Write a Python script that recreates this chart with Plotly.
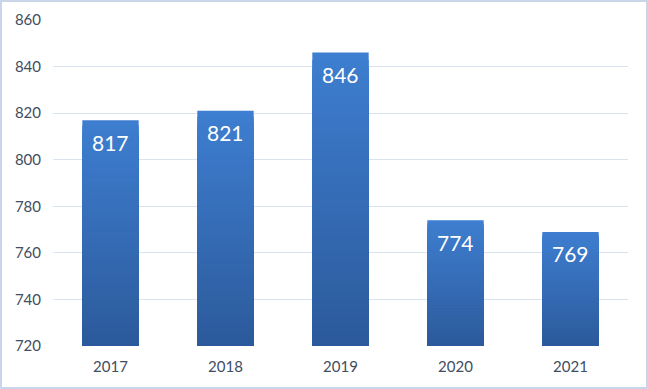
import plotly.graph_objects as go

years = ["2017", "2018", "2019", "2020", "2021"]
values = [817, 821, 846, 774, 769]
y_ticks = [720, 740, 760, 780, 800, 820, 840, 860]

BASE = 720
N = 40
top_rgb = (62, 126, 208)
bot_rgb = (44, 90, 155)
FONT = "Lato, Open Sans, sans-serif"
pos = list(range(len(years)))

fig = go.Figure()
# nested bars, tallest first (top colour), shortest last (bottom colour) -> vertical gradient
for k in range(N):
    f = k / N
    r = int(top_rgb[0] + (bot_rgb[0] - top_rgb[0]) * f)
    g = int(top_rgb[1] + (bot_rgb[1] - top_rgb[1]) * f)
    b = int(top_rgb[2] + (bot_rgb[2] - top_rgb[2]) * f)
    fig.add_trace(go.Bar(
        x=pos,
        base=[BASE] * len(values),
        y=[(v - BASE) * (1 - f) for v in values],
        marker=dict(color=f"rgb({r},{g},{b})", line=dict(width=0)),
        width=0.49, hoverinfo="skip", showlegend=False,
    ))

annotations = [
    dict(x=p, y=v, xref="x", yref="y", text=str(v), showarrow=False,
         yanchor="middle", yshift=-22,
         font=dict(color="white", size=21, family=FONT))
    for p, v in zip(pos, values)
]

fig.update_layout(
    barmode="overlay",
    width=648, height=389,
    margin=dict(l=53, r=20, t=20, b=43, autoexpand=False),
    paper_bgcolor="white", plot_bgcolor="white",
    font=dict(family=FONT, color="#414D60", size=14),
    xaxis=dict(range=[-0.5, len(years) - 0.5], tickvals=pos, ticktext=years,
               showgrid=False, zeroline=False, showline=False, ticks="",
               tickfont=dict(size=15), automargin=False, ticklabelstandoff=10),
    yaxis=dict(range=[720, 860], tickvals=y_ticks, showgrid=True, gridcolor="#D9E2EF",
               gridwidth=1, zeroline=False, showline=False, ticks="",
               tickfont=dict(size=15), ticklabelstandoff=11, automargin=False),
    shapes=[dict(type="rect", xref="paper", yref="paper",
                 x0=-52/575, x1=1 + 19/575,
                 y0=-42/326, y1=1 + 19/326,
                 line=dict(color="#C9D6EA", width=2), layer="above")],
    annotations=annotations,
)

fig.write_html("out.html", config={"displayModeBar": False},
               post_script="document.body.style.margin='0';document.body.style.overflow='hidden';")
